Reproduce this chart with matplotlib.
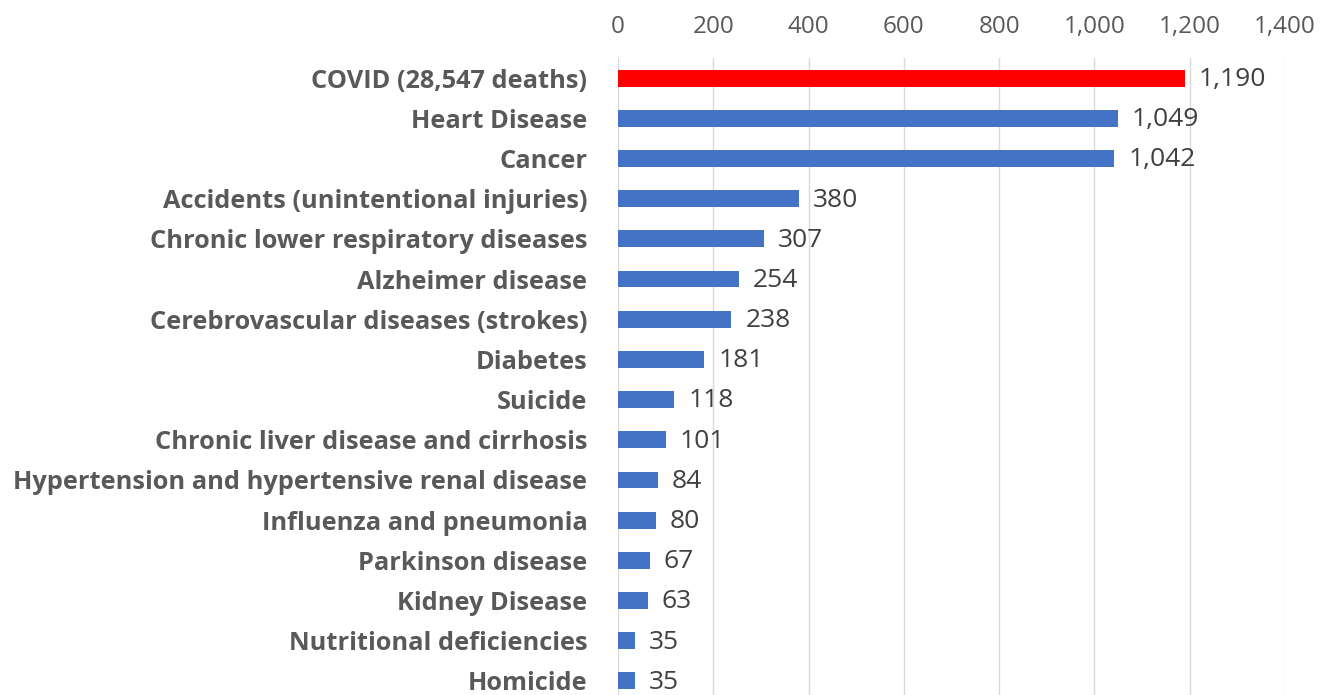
import matplotlib
matplotlib.use('Agg')
import matplotlib.pyplot as plt

# dados do grafico (mortes por causa)
causas = [
    'COVID (28,547 deaths)',
    'Heart Disease',
    'Cancer',
    'Accidents (unintentional injuries)',
    'Chronic lower respiratory diseases',
    'Alzheimer disease',
    'Cerebrovascular diseases (strokes)',
    'Diabetes',
    'Suicide',
    'Chronic liver disease and cirrhosis',
    'Hypertension and hypertensive renal disease',
    'Influenza and pneumonia',
    'Parkinson disease',
    'Kidney Disease',
    'Nutritional deficiencies',
    'Homicide',
]
valores = [1190, 1049, 1042, 380, 307, 254, 238, 181, 118, 101, 84, 80, 67, 63, 35, 35]
ticks_x = [0, 200, 400, 600, 800, 1000, 1200, 1400]

cores = ['#FF0000'] + ['#4472C4'] * (len(valores) - 1)

plt.rcParams['font.family'] = ['Open Sans', 'DejaVu Sans']

fig = plt.figure(figsize=(13.22, 6.95), dpi=100)
ax = fig.add_axes([0.4675, -0.0086, 0.5045, 0.9251])

pos = list(range(len(causas)))
ax.barh(pos, valores, height=0.42, color=cores, zorder=3)

for p, v in zip(pos, valores):
    ax.annotate(f'{v:,}', (v, p), xytext=(10, -1), textcoords='offset points',
                va='center', ha='left', fontsize=19, color='#404040')

ax.set_ylim(len(causas) - 0.5, -0.5)
ax.set_xlim(0, 1400)
ax.set_xticks(ticks_x)
ax.set_xticklabels([f'{t:,}' for t in ticks_x], fontsize=17.5, color='#595959')
ax.xaxis.tick_top()
ax.tick_params(axis='x', length=0, pad=14)

ax.set_yticks(pos)
ax.set_yticklabels(causas, fontsize=18.3, fontweight='bold', color='#595959')
ax.tick_params(axis='y', length=0, pad=22)

ax.grid(axis='x', color='#D9D9D9', linewidth=1, zorder=0)
for s in ax.spines.values():
    s.set_visible(False)

plt.savefig('out.png', dpi=100)
plt.close()
